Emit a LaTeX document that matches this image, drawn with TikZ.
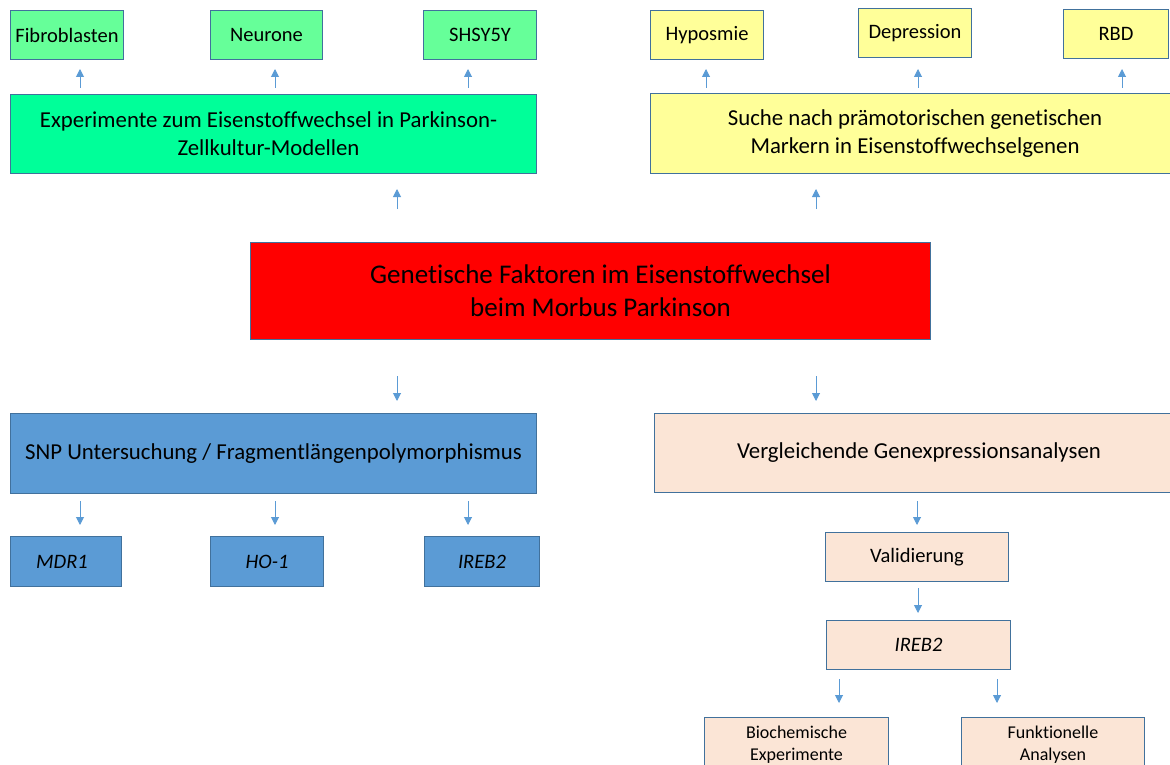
\documentclass[tikz,border=0pt]{standalone}
\usepackage{fontspec}
\setmainfont{Carlito}[Ligatures=NoCommon]
\usetikzlibrary{arrows.meta}
\definecolor{bordc}{HTML}{41719C}
\definecolor{arrc}{HTML}{5B9BD5}
\definecolor{lgreen}{HTML}{66FF99}
\definecolor{sgreen}{HTML}{00FF99}
\definecolor{lyellow}{HTML}{FFFF99}
\definecolor{mblue}{HTML}{5B9BD5}
\definecolor{peach}{HTML}{FBE5D6}
\tikzset{
  box/.style={draw=bordc, line width=1pt, rectangle, anchor=north west, inner sep=0pt, align=center, text=black},
  small/.style={box, font=\fontsize{20.5}{28}\selectfont},
  big/.style={box, font=\fontsize{22.8}{28}\selectfont},
  bigtext/.style={font=\fontsize{22.8}{28}\selectfont, align=center},
  tiny/.style={box, font=\fontsize{18}{22}\selectfont},
  arr/.style={draw=arrc, line width=1pt, -{Triangle[width=8pt,length=8pt]}},
}
\begin{document}
\begin{tikzpicture}[x=1pt,y=-1pt]
\useasboundingbox (0,0) rectangle (1170,765);
\clip (0,0) rectangle (1170,765);
% top left
\node[small, fill=lgreen, minimum width=113pt, minimum height=49pt] (fib) at (10,10) {Fibroblasten};
\node[small, fill=lgreen, minimum width=112pt, minimum height=49pt] (neu) at (210,10) {Neurone};
\node[small, fill=lgreen, minimum width=113pt, minimum height=49pt] (shs) at (423,10) {SHSY5Y};
\node[box, fill=sgreen, minimum width=526pt, minimum height=79pt] (exp) at (10,94) {};
\node[bigtext] (exptext) at ([xshift=-5pt]exp.center) {Experimente zum Eisenstoffwechsel in Parkinson-\\Zellkultur-Modellen};
% top right
\node[small, fill=lyellow, minimum width=113pt, minimum height=49pt] (hyp) at (650,10) {Hyposmie};
\node[small, fill=lyellow, minimum width=113pt, minimum height=49pt] (dep) at (858,8) {Depression};
\node[small, fill=lyellow, minimum width=105pt, minimum height=49pt] (rbd) at (1063,9) {RBD};
\node[box, fill=lyellow, minimum width=530pt, minimum height=80pt] (such) at (650,93) {};
\node[bigtext] (suchtext) at (such.center -| 915,0) {Suche nach prämotorischen genetischen\\Markern in Eisenstoffwechselgenen};
% center
\node[box, fill=red, minimum width=680pt, minimum height=97pt] (red) at (250,242) {};
\node[font=\fontsize{27}{33}\selectfont, align=center] (redtext) at ([xshift=10pt]red.center) {Genetische Faktoren im Eisenstoffwechsel\\beim Morbus Parkinson};
% bottom left
\node[big, fill=mblue, minimum width=526pt, minimum height=80pt] (snp) at (10,413) {SNP Untersuchung / Fragmentlängenpolymorphismus};
\node[small, fill=mblue, minimum width=111pt, minimum height=50pt] (mdr) at (10,536) {\hspace*{-8pt}\itshape MDR1};
\node[small, fill=mblue, minimum width=113pt, minimum height=50pt] (ho) at (210,536) {\itshape HO-1};
\node[small, fill=mblue, minimum width=115pt, minimum height=50pt] (ireb) at (424,536) {\itshape IREB2};
% bottom right
\node[box, fill=peach, minimum width=530pt, minimum height=79pt] (verg) at (654,413) {};
\node[bigtext] (vergtext) at (verg.center -| 919,0) {Vergleichende Genexpressionsanalysen};
\node[small, fill=peach, minimum width=183pt, minimum height=49pt] (val) at (825,532) {Validierung};
\node[small, fill=peach, minimum width=184pt, minimum height=49pt] (irebr) at (826,620) {\itshape IREB2};
\node[tiny, fill=peach, minimum width=184pt, minimum height=54pt] (bio) at (704,717) {Biochemische\\Experimente};
\node[tiny, fill=peach, minimum width=183pt, minimum height=54pt] (funk) at (961,717) {Funktionelle\\Analysen};
% x positions of connectors
\coordinate (xa) at (80,0);
\coordinate (xb) at (275,0);
\coordinate (xc) at (468,0);
\coordinate (xd) at (706,0);
\coordinate (xe) at (918,0);
\coordinate (xf) at (1122,0);
\coordinate (xg) at (397,0);
\coordinate (xh) at (816,0);
\coordinate (xi) at (917,0);
\coordinate (xj) at (839,0);
\coordinate (xk) at (997,0);
% connectors
\draw[arr, shorten <=6pt, shorten >=9pt] (exp.north -| xa) -- (fib.south -| xa);
\draw[arr, shorten <=6pt, shorten >=9pt] (exp.north -| xb) -- (neu.south -| xb);
\draw[arr, shorten <=6pt, shorten >=9pt] (exp.north -| xc) -- (shs.south -| xc);
\draw[arr, shorten <=5pt, shorten >=9pt] (such.north -| xd) -- (hyp.south -| xd);
\draw[arr, shorten <=5pt, shorten >=11pt] (such.north -| xe) -- (dep.south -| xe);
\draw[arr, shorten <=5pt, shorten >=10pt] (such.north -| xf) -- (rbd.south -| xf);
\draw[arr, shorten <=33pt, shorten >=15pt] (red.north -| xg) -- (exp.south -| xg);
\draw[arr, shorten <=33pt, shorten >=15pt] (red.north -| xh) -- (such.south -| xh);
\draw[arr, shorten <=36pt, shorten >=12pt] (red.south -| xg) -- (snp.north -| xg);
\draw[arr, shorten <=36pt, shorten >=12pt] (red.south -| xh) -- (verg.north -| xh);
\draw[arr, shorten <=7pt, shorten >=11pt] (snp.south -| xa) -- (mdr.north -| xa);
\draw[arr, shorten <=7pt, shorten >=11pt] (snp.south -| xb) -- (ho.north -| xb);
\draw[arr, shorten <=7pt, shorten >=11pt] (snp.south -| xc) -- (ireb.north -| xc);
\draw[arr, shorten <=8pt, shorten >=7pt] (verg.south -| xi) -- (val.north -| xi);
\draw[arr, shorten <=6pt, shorten >=7pt] (val.south -| xe) -- (irebr.north -| xe);
\draw[arr, shorten <=9pt, shorten >=14pt] (irebr.south -| xj) -- (bio.north -| xj);
\draw[arr, shorten <=9pt, shorten >=14pt] (irebr.south -| xk) -- (funk.north -| xk);
\end{tikzpicture}
\end{document}
